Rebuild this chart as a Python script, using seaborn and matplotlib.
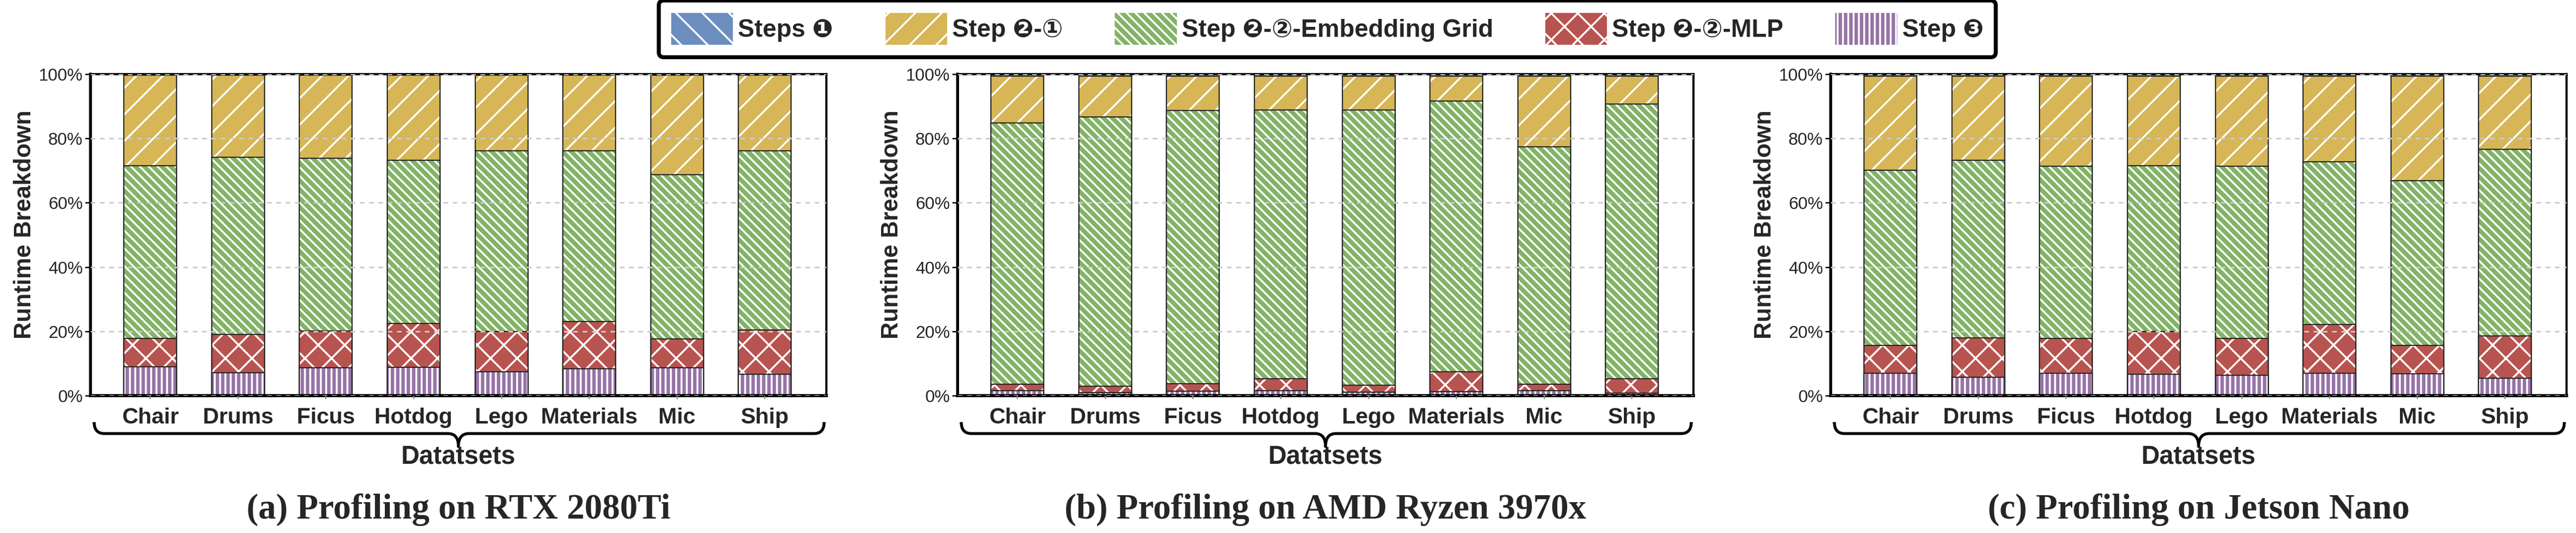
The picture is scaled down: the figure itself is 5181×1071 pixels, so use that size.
import numpy as np
import pandas as pd
import matplotlib
matplotlib.use("Agg")
import matplotlib.pyplot as plt
from matplotlib.patches import Patch, PathPatch
from matplotlib.path import Path
import matplotlib.ticker as mticker
import seaborn as sns

# ---------------- data ----------------
datasets = ["Chair", "Drums", "Ficus", "Hotdog", "Lego", "Materials", "Mic", "Ship"]

layer_names = ["Step \u2778", "Step \u2777-\u2461-MLP", "Step \u2777-\u2461-Embedding Grid",
               "Step \u2777-\u2460", "Steps \u2776"]

# (a) RTX 2080Ti  (segment shares in %, bottom -> top)
a_step3 = [9.0, 7.1, 8.7, 8.8, 7.4, 8.4, 8.6, 6.7]
a_mlp = [8.8, 11.9, 11.5, 13.7, 12.5, 14.6, 9.1, 13.7]
a_grid = [53.7, 55.2, 53.7, 50.7, 56.2, 53.2, 51.0, 55.8]
a_step2_1 = [28.2, 25.5, 25.8, 26.5, 23.6, 23.5, 31.0, 23.5]
a_step1 = [0.3, 0.3, 0.3, 0.3, 0.3, 0.3, 0.3, 0.3]

# (b) AMD Ryzen 3970x
b_step3 = [1.6, 1.0, 1.4, 1.5, 1.1, 1.3, 1.5, 0.7]
b_mlp = [1.9, 2.0, 2.3, 3.7, 2.2, 6.2, 2.0, 4.5]
b_grid = [81.3, 83.7, 85.0, 83.7, 85.5, 84.1, 73.9, 85.5]
b_step2_1 = [14.6, 12.7, 10.7, 10.5, 10.6, 7.8, 22.0, 8.7]
b_step1 = [0.6, 0.6, 0.6, 0.6, 0.6, 0.6, 0.6, 0.6]

# (c) Jetson Nano
c_step3 = [6.9, 5.8, 6.9, 6.6, 6.4, 7.0, 6.8, 5.4]
c_mlp = [8.8, 12.2, 10.9, 13.3, 11.4, 15.1, 8.9, 13.2]
c_grid = [54.4, 55.2, 53.5, 51.6, 53.5, 50.6, 51.2, 58.0]
c_step2_1 = [29.3, 26.2, 28.1, 27.9, 28.1, 26.7, 32.5, 22.8]
c_step1 = [0.6, 0.6, 0.6, 0.6, 0.6, 0.6, 0.6, 0.6]

panel_titles = ["(a) Profiling on RTX 2080Ti", "(b) Profiling on AMD Ryzen 3970x",
                "(c) Profiling on Jetson Nano"]
y_ticks = [0, 20, 40, 60, 80, 100]
x_title = "Datatsets"
y_title = "Runtime Breakdown"

panels = [
    [a_step3, a_mlp, a_grid, a_step2_1, a_step1],
    [b_step3, b_mlp, b_grid, b_step2_1, b_step1],
    [c_step3, c_mlp, c_grid, c_step2_1, c_step1],
]

# ---------------- style ----------------
colors = ["#9673a6", "#b85450", "#82b366", "#d6b656", "#6c8ebf"]
hatches = ["|||||", "xx", "\\" * 6, "//", "\\\\"]

sns.set_style("white")
sans = ["Liberation Sans", "DejaVu Sans", "Noto Sans CJK SC"]
serif = ["Liberation Serif", "DejaVu Serif"]
plt.rcParams["font.family"] = sans
plt.rcParams["hatch.linewidth"] = 0.85
plt.rcParams["hatch.color"] = "white"

DPI = 320
fig = plt.figure(figsize=(5181 / DPI, 1071 / DPI), dpi=DPI)

lefts = [182 / 5181, 1926 / 5181, 3682 / 5181]
width = 1480 / 5181
bottom = 1 - 795 / 1071
height = 646 / 1071

for pi, layers in enumerate(panels):
    ax = fig.add_axes([lefts[pi], bottom, width, height])
    cum = np.cumsum(np.array(layers, dtype=float), axis=0)
    # draw from top layer (full stack) down to bottom layer
    for li in range(len(layers) - 1, -1, -1):
        df = pd.DataFrame({"dataset": datasets, "value": cum[li]})
        sns.barplot(data=df, x="dataset", y="value", order=datasets, ax=ax,
                    color=colors[li], saturation=1, width=0.6, errorbar=None,
                    edgecolor="white", linewidth=0, hatch=hatches[li])
        sns.barplot(data=df, x="dataset", y="value", order=datasets, ax=ax,
                    color="#222222", fill=False, width=0.6, errorbar=None,
                    linewidth=0.5)

    ax.set_xlim(-0.68, 7.7)
    ax.set_ylim(0, 100)
    ax.set_yticks(y_ticks)
    ax.yaxis.set_major_formatter(mticker.FuncFormatter(lambda v, p: f"{int(v)}%"))
    ax.set_axisbelow(False)
    ax.yaxis.grid(True, linestyle=(0, (3, 3)), color="#cccccc", linewidth=0.7)
    ax.xaxis.grid(False)

    for lab in ax.get_yticklabels():
        lab.set_fontsize(7.8)
        lab.set_family(sans)
    ax.tick_params(axis="y", which="major", direction="out", length=2.5, width=0.6,
                   pad=1, left=True, color="black")
    ax.tick_params(axis="x", which="major", direction="out", length=1.5, width=0.5,
                   pad=4, bottom=True, color="#888888")
    ax.set_xticks(range(len(datasets)))
    ax.set_xticklabels(datasets, fontsize=10.1, fontweight="bold", family=sans)

    ax.set_xlabel("")
    ax.set_ylabel(y_title, fontsize=10.7, fontweight="bold", family=sans)
    ax.yaxis.set_label_coords(-0.0745, 0.532)

    for side, lw in [("left", 1.3), ("bottom", 1.4), ("top", 1.0), ("right", 1.0)]:
        ax.spines[side].set_visible(True)
        ax.spines[side].set_linewidth(lw)
        ax.spines[side].set_color("black")

    # curly brace under the tick labels
    x0, x1, xm = 0.005, 0.997, 0.5
    yt, ym, ytip = -0.085, -0.118, -0.158
    rx, ry = 0.014, 0.035
    left_path = Path(
        [(x0, yt), (x0, ym + ry), (x0, ym), (x0 + rx, ym), (xm - rx, ym), (xm, ym), (xm, ytip)],
        [Path.MOVETO, Path.LINETO, Path.CURVE3, Path.CURVE3, Path.LINETO, Path.CURVE3, Path.CURVE3])
    right_path = Path(
        [(x1, yt), (x1, ym + ry), (x1, ym), (x1 - rx, ym), (xm + rx, ym), (xm, ym), (xm, ytip)],
        [Path.MOVETO, Path.LINETO, Path.CURVE3, Path.CURVE3, Path.LINETO, Path.CURVE3, Path.CURVE3])
    for pth in (left_path, right_path):
        ax.add_patch(PathPatch(pth, fill=False, edgecolor="black", linewidth=1.3,
                               transform=ax.transAxes, clip_on=False, capstyle="round"))

    ax.text(0.5, -0.19, x_title, transform=ax.transAxes, ha="center", va="center",
            fontsize=11.5, fontweight="bold", family=sans)
    ax.text(0.5, -0.355, panel_titles[pi], transform=ax.transAxes, ha="center", va="center",
            fontsize=16, fontweight="bold", family=serif)

# legend
handles = [Patch(facecolor=colors[i], edgecolor="white", hatch=hatches[i], linewidth=0)
           for i in [4, 3, 2, 1, 0]]
labels = [layer_names[i] for i in [4, 3, 2, 1, 0]]
leg = fig.legend(handles, labels, loc="upper center", bbox_to_anchor=(0.5153, 0.999),
                 ncol=5, frameon=True, fancybox=True, borderaxespad=0,
                 handlelength=2.5, handleheight=1.6, handletextpad=0.2,
                 columnspacing=2.1, borderpad=0.5,
                 prop={"family": sans, "weight": "bold", "size": 11.2})
leg.get_frame().set_edgecolor("black")
leg.get_frame().set_linewidth(1.8)
leg.get_frame().set_alpha(1)

fig.savefig("out.png", dpi=DPI)
